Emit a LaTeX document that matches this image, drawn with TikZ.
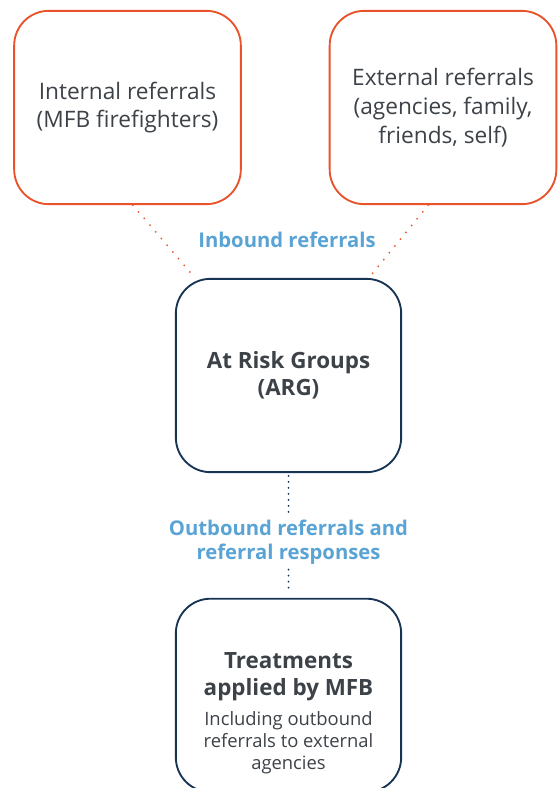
\documentclass[tikz,border=0pt]{standalone}
\usepackage{fontspec}
\setmainfont{Open Sans}
\usepackage{xcolor}
\definecolor{mfborange}{RGB}{232,83,43}
\definecolor{mfbnavy}{RGB}{24,52,84}
\definecolor{mfbsky}{RGB}{90,163,213}
\definecolor{mfbgrey}{RGB}{60,66,72}
\usetikzlibrary{positioning}
\tikzset{
  srcbox/.style={
    rectangle, rounded corners=26pt,
    draw=mfborange, line width=1.4pt,
    minimum width=170pt, minimum height=145pt,
    align=center, font=\fontsize{17}{21.5}\selectfont, text=mfbgrey
  },
  groupbox/.style={
    rectangle, rounded corners=26pt,
    draw=mfbnavy, line width=1.4pt,
    minimum width=169pt, minimum height=145pt,
    align=center, font=\fontsize{16.8}{20}\selectfont\bfseries, text=mfbgrey
  },
  flowlabel/.style={align=center, font=\fontsize{15.2}{18}\selectfont\bfseries, text=mfbsky},
  notetext/.style={align=center, font=\fontsize{13.8}{16.5}\selectfont, text=mfbgrey},
  inlink/.style={draw=mfborange, line width=1.5pt, line cap=round, dash pattern=on 0pt off 6.6pt},
  outlink/.style={draw=mfbnavy, line width=1.5pt, line cap=round, dash pattern=on 0pt off 4.5pt},
}
\begin{document}
\begin{tikzpicture}[x=0.75pt, y=-0.75pt]
  \useasboundingbox (0,0) rectangle (557,788);

  % --- top row: where referrals come from ---
  \node (internal) [srcbox] at (127.5,107.5) {Internal referrals\\(MFB firefighters)};
  \node (external) [srcbox] at (443,107.5) {External referrals\\(agencies, family,\\friends, self)};

  % --- middle: ARG ---
  \node (arg) [groupbox] at (288.5,375.5) {At Risk Groups\\(ARG)};

  % --- bottom: treatments ---
  \node (treat) [groupbox, below=93.5pt of arg] {};
  \node (treattitle) [groupbox, draw=none, minimum width=0pt, minimum height=0pt, below=37pt of treat.north] {Treatments\\applied by MFB};
  \node (treatnote) [notetext, below=1pt of treattitle] {Including outbound\\referrals to external\\agencies};

  % --- labels ---
  \node (inbound) [flowlabel] at (287,240) {Inbound referrals};
  \node (outbound) [flowlabel, below=32pt of arg] {Outbound referrals and\\referral responses};

  % --- dotted connectors ---
  \draw[inlink] ([xshift=4pt]internal.south) -- ([xshift=15pt]arg.north west);
  \draw[inlink] ([xshift=-11pt]external.south) -- ([xshift=-25pt]arg.north east);
  \draw[outlink] ([yshift=-2pt]arg.south) -- (outbound.north);
  \draw[outlink] (outbound.south) -- ([yshift=4pt]treat.north);

\end{tikzpicture}
\end{document}
